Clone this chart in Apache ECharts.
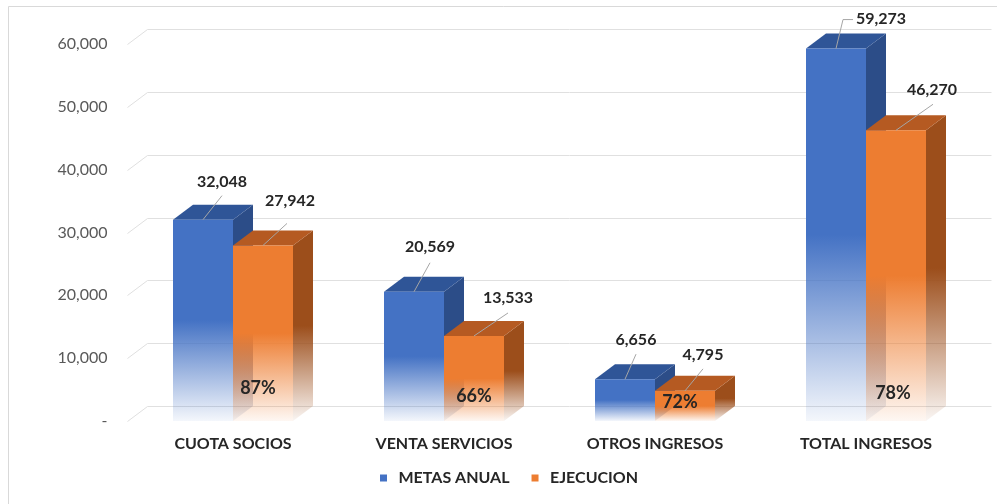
<!DOCTYPE html>
<html>
<head>
<meta charset="utf-8">
<script src="https://cdn.jsdelivr.net/npm/echarts@6/dist/echarts.min.js"></script>
<style>
  html, body { margin: 0; padding: 0; background: #fff; }
  #chart { width: 997px; height: 504px; }
</style>
</head>
<body>
<div id="chart"></div>
<script>
var categories = ["CUOTA SOCIOS", "VENTA SERVICIOS", "OTROS INGRESOS", "TOTAL INGRESOS"];
var metas = [32048, 20569, 6656, 59273];
var ejecucion = [27942, 13533, 4795, 46270];
var avance = ["87%", "66%", "72%", "78%"];
var yTicks = [0, 10000, 20000, 30000, 40000, 50000, 60000];

// label placement (pixels, relative to the top centre of each bar)
// [line end dx, line end dy, label dx, label dy, horizontal tail]
var metasLeader = [[19, -24, 19, -38, 0], [16, -29, 16, -45, 0], [11, -25, 11, -39, 0], [7, -29, 49, -30, 10]];
var ejecLeader = [[24, -22, 27, -45, 0], [34, -23, 34, -38, 0], [18, -22, 18, -36, 0], [37, -26, 36, -40, 0]];
// percent label offset from orange bar base
var pctOffset = [[-5, -33], [0, -25], [-5, -19], [-3, -28]];

var DX = 20, DY = -15;
var FONT = "Lato, 'Open Sans', sans-serif";

function fade(c, a) {
  return new echarts.graphic.LinearGradient(0, 0, 0, 1, [
    { offset: 0, color: c },
    { offset: 0.5, color: c },
    { offset: 1, color: a }
  ]);
}

function formatNumber(v) {
  return v.toString().replace(/(\d)(?=(\d{3})+(?!\d))/g, "$1,");
}

function barRenderer(side, colors, leader, withPct) {
  return function (params, api) {
    var i = api.value(0);
    var val = api.value(1);
    var top = api.coord([i, val]);
    var base = api.coord([i, 0]);
    var bw = api.size([1, 0])[0] * 60 / 211;
    var x0 = side === 0 ? top[0] - bw : top[0];
    var x1 = x0 + bw;
    var yt = top[1], yb = base[1];
    var cx = x0 + bw / 2;
    var l = leader[i];
    var pts = [[cx, yt], [cx + l[0], yt + l[1]]];
    if (l[4]) pts.push([cx + l[0] + l[4], yt + l[1]]);
    var children = [
      {
        type: "polygon",
        shape: { points: [[x1, yt], [x1 + DX, yt + DY], [x1 + DX, yb + DY], [x1, yb]] },
        style: { fill: fade(colors.side, colors.sideEnd) }
      },
      {
        type: "polygon",
        shape: { points: [[x0, yt], [x0 + DX, yt + DY], [x1 + DX, yt + DY], [x1, yt]] },
        style: { fill: colors.top }
      },
      {
        type: "rect",
        shape: { x: x0, y: yt, width: bw, height: yb - yt },
        style: { fill: fade(colors.front, colors.frontEnd) }
      },
      {
        type: "polyline",
        shape: { points: pts },
        style: { stroke: "#a6a6a6", lineWidth: 1, fill: null }
      },
      {
        type: "text",
        style: {
          text: formatNumber(val),
          x: l[4] ? cx + l[0] + l[4] + 3 : cx + l[2],
          y: yt + l[3],
          align: l[4] ? "left" : "center",
          verticalAlign: "middle",
          font: "bold 16px " + FONT,
          fill: "#262626"
        }
      }
    ];
    if (withPct) {
      children.push({
        type: "text",
        style: {
          text: avance[i],
          x: cx + pctOffset[i][0],
          y: yb + pctOffset[i][1],
          align: "center",
          verticalAlign: "middle",
          font: "bold 18px " + FONT,
          fill: "#262626"
        }
      });
    }
    return { type: "group", children: children };
  };
}

var chart = echarts.init(document.getElementById("chart"));
var option = {
  backgroundColor: "#fff",
  animation: false,
  graphic: [
    {
      type: "rect",
      shape: { x: 8.5, y: 6.5, width: 1000, height: 520 },
      style: { fill: null, stroke: "#d9d9d9", lineWidth: 1 },
      silent: true
    }
  ],
  grid: { left: 127.5, right: 25.5, top: 44, bottom: 83 },
  legend: {
    data: ["METAS ANUAL", "EJECUCION"],
    left: 375,
    top: 465,
    icon: "path://M0,0H10V10H0Z",
    itemWidth: 20,
    itemHeight: 7,
    itemGap: 22,
    textStyle: { fontFamily: FONT, fontWeight: "bold", fontSize: 16, color: "#262626" }
  },
  xAxis: {
    type: "category",
    data: categories,
    axisLine: { show: false },
    axisTick: { show: false },
    axisLabel: { margin: 15, fontFamily: FONT, fontWeight: "bold", fontSize: 16, color: "#262626" }
  },
  yAxis: {
    type: "value",
    min: 0,
    max: 60000,
    interval: 10000,
    axisLine: { show: false },
    axisTick: { show: false },
    splitLine: { show: false },
    axisLabel: {
      margin: 20,
      fontFamily: FONT,
      fontSize: 16,
      color: "#595959",
      formatter: function (v) { return v === 0 ? "-" : formatNumber(v); }
    }
  },
  series: [
    {
      name: "wall",
      type: "custom",
      silent: true,
      data: yTicks.map(function (v) { return [0, v]; }),
      encode: { x: 0, y: 1 },
      renderItem: function (params, api) {
        var y = Math.round(api.coord([0, api.value(1)])[1]) + 0.5;
        var cs = params.coordSys;
        return {
          type: "polyline",
          shape: { points: [[cs.x, y], [cs.x + DX, y + DY], [cs.x + cs.width + DX, y + DY]] },
          style: { stroke: "#e0e0e0", lineWidth: 1, fill: null }
        };
      }
    },
    {
      name: "METAS ANUAL",
      type: "custom",
      itemStyle: { color: "#4472C4" },
      data: metas.map(function (v, i) { return [i, v]; }),
      encode: { x: 0, y: 1 },
      renderItem: barRenderer(0, {
        front: "#4472C4", frontEnd: "rgba(68,114,196,0.06)",
        top: "#2F5597", side: "#2C4D88", sideEnd: "rgba(44,77,136,0.05)"
      }, metasLeader, false)
    },
    {
      name: "EJECUCION",
      type: "custom",
      itemStyle: { color: "#ED7D31" },
      data: ejecucion.map(function (v, i) { return [i, v]; }),
      encode: { x: 0, y: 1 },
      renderItem: barRenderer(1, {
        front: "#ED7D31", frontEnd: "rgba(237,125,49,0.06)",
        top: "#B55A22", side: "#9C4E1B", sideEnd: "rgba(156,78,27,0.05)"
      }, ejecLeader, true)
    }
  ]
};
chart.setOption(option);
</script>
</body>
</html>
